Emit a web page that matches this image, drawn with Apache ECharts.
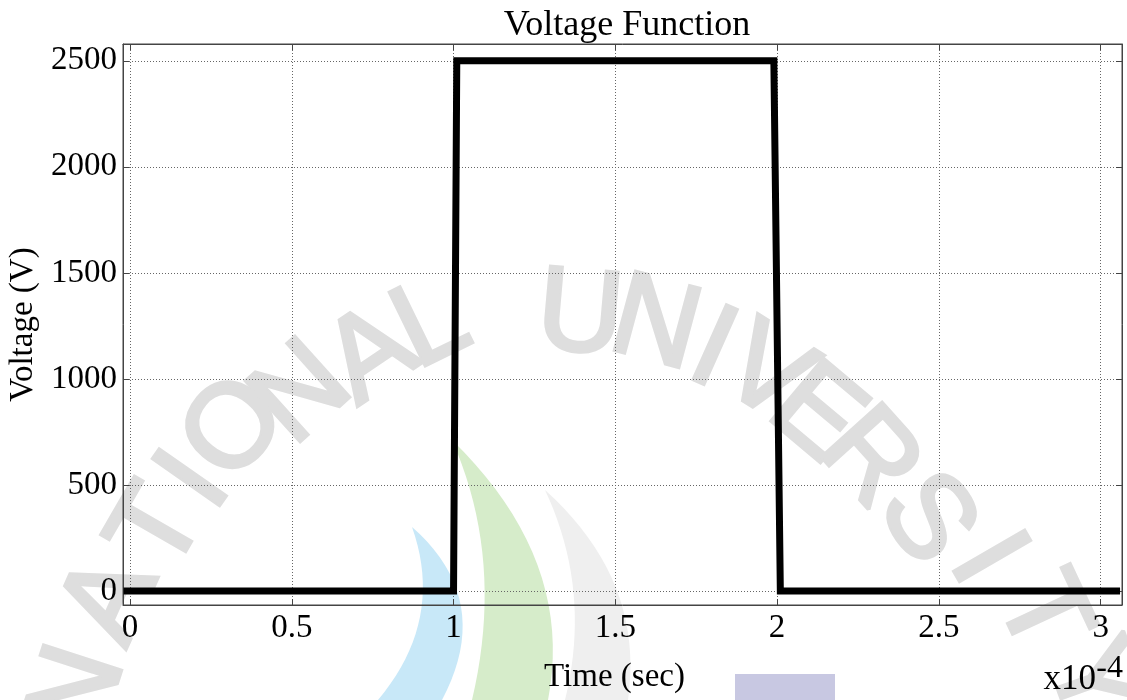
<!DOCTYPE html>
<html>
<head>
<meta charset="utf-8">
<script src="https://cdn.jsdelivr.net/npm/echarts@6/dist/echarts.min.js"></script>
<style>
html,body{margin:0;padding:0;background:#fff;}
#chart{width:1127px;height:700px;}
</style>
</head>
<body>
<div id="chart"></div>
<script>
// Data (time in units of 1e-4 s)
const timeData = [-0.02, 1.0, 1.01, 1.99, 2.01, 3.06];
const voltageData = [0, 0, 2500, 2500, 0, 0];
const xTicks = [0, 0.5, 1, 1.5, 2, 2.5, 3];
const yTicks = [0, 500, 1000, 1500, 2000, 2500];
const titleText = 'Voltage Function';
const xName = 'Time (sec)';
const yName = 'Voltage (V)';
const expBase = 'x10';
const expPow = '-4';
const wmLeft = ['N','A','T','I','O','N','A','L'];
const wmRight = ['U','N','I','V','E','R','S','I','T','Y'];

const serif = "'Liberation Serif', 'Times New Roman', serif";

// watermark layout (decorative background only)
const wmLeftPos = [[80,692,72],[112,600,66],[160,530,60],[196,482,55],[236,430,50],[303,395,42],[372,357,34],[432,326,26]];
const wmRightPos = [[580,318,-5],[655,327,-15],[712,352,-24],[765,376,-32],[815,415,-40],[868,460,-48],[925,520,-55],[985,560,-60],[1040,615,-65],[1090,682,-70]];
const wmFill = '#dedede';
const graphics = [];
function addLetter(ch, p){
  graphics.push({
    type:'text', x:p[0], y:p[1], rotation:p[2]*Math.PI/180, z:-10, silent:true,
    style:{text:ch, font:"118px 'Liberation Sans', Arial, sans-serif", fill:wmFill,
      stroke:wmFill, lineWidth:4, shadowBlur:8, shadowColor:'#e8e8e8',
      align:'center', verticalAlign:'middle', textAlign:'center', textVerticalAlign:'middle'}
  });
}
wmLeft.forEach((c,i)=>addLetter(c, wmLeftPos[i]));
wmRight.forEach((c,i)=>addLetter(c, wmRightPos[i]));
function quad(p0, c, p1, n){
  const pts = [];
  for(let i=0;i<=n;i++){
    const t=i/n, u=1-t;
    pts.push([u*u*p0[0]+2*u*t*c[0]+t*t*p1[0], u*u*p0[1]+2*u*t*c[1]+t*t*p1[1]]);
  }
  return pts;
}
function crescent(a, c1, b, c2, b2, fill, z){
  const outer = quad(a, c1, b, 20);
  const inner = quad(b2, c2, a, 20);
  graphics.push({type:'polygon', z:z, silent:true, shape:{points:outer.concat(inner)}, style:{fill:fill}});
}
crescent([412,527],[495,600],[442,700],[445,620],[378,700],'#c8e8f8',-11);
crescent([452,440],[575,560],[548,700],[505,560],[472,700],'#d6ecca',-11);
crescent([545,490],[645,580],[628,700],[592,590],[565,700],'#efefef',-12);
graphics.push({type:'rect', z:-11, silent:true, shape:{x:735, y:674, width:100, height:26}, style:{fill:'#c8c8e2'}});
// exponent label
graphics.push({type:'text', right:31, bottom:3, z:5, style:{text:expBase, font:"35px "+serif, fill:'#000'}});
graphics.push({type:'text', right:4, bottom:15, z:5, style:{text:expPow, font:"32px "+serif, fill:'#000'}});

const chart = echarts.init(document.getElementById('chart'), null, {renderer:'canvas'});
const axisLineStyle = {color:'#444', width:1};
const gridLineStyle = {color:'#666', width:1, type:[1,2]};
const option = {
  animation:false,
  backgroundColor:'#fff',
  title:{text:titleText, left:622, textAlign:'center', top:3, textStyle:{fontFamily:serif, fontSize:36, fontWeight:'normal', color:'#000'}},
  grid:{left:123, right:5, top:44, bottom:95, show:true, borderColor:'#444', borderWidth:1,
    backgroundColor:'transparent', containLabel:false, outerBoundsMode:'none'},
  graphic:graphics,
  xAxis:[{
    type:'value', min:-0.0216, max:3.066, position:'bottom',
    name:xName, nameLocation:'middle', nameGap:56,
    nameTextStyle:{fontFamily:serif, fontSize:33, color:'#000', padding:[0,16,0,0]},
    axisLine:{show:true, onZero:false, lineStyle:axisLineStyle},
    axisTick:{show:true, inside:true, length:6, lineStyle:axisLineStyle, customValues:xTicks},
    axisLabel:{show:true, fontFamily:serif, fontSize:33, color:'#000', margin:7, customValues:xTicks, formatter:v=>String(v)},
    splitLine:{show:true, lineStyle:gridLineStyle}
  },{
    type:'value', min:-0.0216, max:3.066, position:'top',
    axisLine:{show:true, onZero:false, lineStyle:axisLineStyle},
    axisTick:{show:true, inside:true, length:6, lineStyle:axisLineStyle, customValues:xTicks},
    axisLabel:{show:false, customValues:xTicks},
    splitLine:{show:false}
  }],
  yAxis:[{
    type:'value', min:-66, max:2579, position:'left',
    name:yName, nameLocation:'middle', nameGap:80,
    nameTextStyle:{fontFamily:serif, fontSize:33, color:'#000'},
    axisLine:{show:true, onZero:false, lineStyle:axisLineStyle},
    axisTick:{show:true, inside:true, length:6, lineStyle:axisLineStyle, customValues:yTicks},
    axisLabel:{show:true, fontFamily:serif, fontSize:33, color:'#000', margin:6, customValues:yTicks, formatter:v=>String(v)},
    splitLine:{show:true, lineStyle:gridLineStyle}
  },{
    type:'value', min:-66, max:2579, position:'right',
    axisLine:{show:true, onZero:false, lineStyle:axisLineStyle},
    axisTick:{show:true, inside:true, length:6, lineStyle:axisLineStyle, customValues:yTicks},
    axisLabel:{show:false, customValues:yTicks},
    splitLine:{show:false}
  }],
  series:[{
    type:'line', xAxisIndex:0, yAxisIndex:0,
    data:timeData.map((t,i)=>[t, voltageData[i]]),
    showSymbol:false, symbol:'none', clip:true,
    lineStyle:{color:'#000', width:7, join:'miter'},
    z:3
  }]
};
chart.setOption(option);
</script>
</body>
</html>
